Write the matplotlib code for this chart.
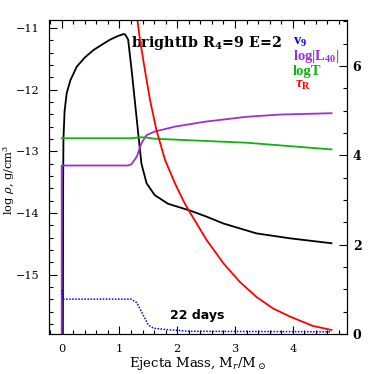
import numpy as np
import matplotlib
matplotlib.use('Agg')
import matplotlib.pyplot as plt
from matplotlib.ticker import MultipleLocator

plt.rcParams['font.family'] = 'DejaVu Serif'
plt.rcParams['mathtext.fontset'] = 'dejavuserif'
# custom math fonts, used only for the coloured labels on the right
plt.rcParams['mathtext.rm'] = 'Liberation Serif:bold'
plt.rcParams['mathtext.bf'] = 'Liberation Serif:bold'
plt.rcParams['mathtext.it'] = 'Liberation Serif:italic:bold'

# density log rho (left axis)
rho_x = [0.02, 0.025, 0.03, 0.05, 0.086, 0.15, 0.26, 0.40, 0.55, 0.70, 0.84, 0.98, 1.07, 1.10,
         1.15, 1.21, 1.27, 1.33, 1.38, 1.47, 1.61, 1.84, 2.22, 2.51, 2.80, 3.37, 3.95, 4.67]
rho_y = [-16.0, -13.5, -12.8, -12.35, -12.06, -11.85, -11.63, -11.48, -11.36, -11.27, -11.19, -11.13,
         -11.10, -11.11, -11.19, -11.68, -12.22, -12.76, -13.20, -13.52, -13.71, -13.85, -13.96,
         -14.06, -14.17, -14.33, -14.41, -14.49]

# right axis quantities
lum_x = [0.0, 0.0, 1.15, 1.21, 1.30, 1.38, 1.47, 1.61, 1.96, 2.48, 3.20, 3.78, 4.67]
lum_y = [0.0, 3.77, 3.77, 3.80, 3.97, 4.27, 4.45, 4.53, 4.64, 4.75, 4.86, 4.91, 4.94]

temp_x = [0.0, 1.20, 1.35, 1.45, 1.60, 2.48, 3.20, 4.67]
temp_y = [4.38, 4.38, 4.40, 4.40, 4.37, 4.32, 4.28, 4.13]

tau_x = [1.28, 1.31, 1.355, 1.44, 1.53, 1.64, 1.79, 1.96, 2.13, 2.22, 2.51, 2.80, 3.08, 3.37,
         3.66, 3.95, 4.35, 4.67]
tau_y = [7.5, 7.03, 6.58, 5.91, 5.23, 4.56, 3.89, 3.37, 2.92, 2.72, 2.10, 1.58, 1.17, 0.83,
         0.57, 0.39, 0.18, 0.09]

vel_x = [0.0, 0.01, 0.02, 1.20, 1.30, 1.40, 1.50, 1.59, 1.80, 2.22, 4.67]
vel_y = [0.98, 0.90, 0.78, 0.78, 0.70, 0.45, 0.20, 0.13, 0.10, 0.06, 0.05]

left_ticks = [-15, -14, -13, -12, -11]
left_labels = ['\u221215', '\u221214', '\u221213', '\u221212', '\u221211']

fig = plt.figure(figsize=(3.74, 3.74), dpi=100)
ax = fig.add_axes([0.131, 0.107, 0.797, 0.840])
ax2 = ax.twinx()

ax.plot(rho_x, rho_y, color='black', lw=1.3)
ax2.plot(lum_x, lum_y, color='#9b30d9', lw=1.3)
ax2.plot(temp_x, temp_y, color='#12b012', lw=1.3)
ax2.plot(tau_x, tau_y, color='red', lw=1.3)
ax2.plot(vel_x, vel_y, color='blue', lw=1.1, ls=(0, (1, 1)))

ax.set_xlim(-0.22, 4.94)
ax.set_ylim(-15.96, -10.87)
ax2.set_ylim(0, 7.03)

ax.xaxis.set_major_locator(MultipleLocator(1))
ax.xaxis.set_minor_locator(MultipleLocator(0.2))
ax.yaxis.set_minor_locator(MultipleLocator(0.2))
ax2.yaxis.set_major_locator(MultipleLocator(2))
ax2.yaxis.set_minor_locator(MultipleLocator(0.5))
ax.set_yticks(left_ticks)
ax.set_yticklabels(left_labels)

ax.tick_params(which='both', direction='in', top=True, right=False, labelsize=8.2, pad=7)
ax.tick_params(axis='y', labelsize=8, pad=6.5)
ax.tick_params(which='major', length=6, width=0.8)
ax.tick_params(which='minor', length=3, width=0.8)
ax2.tick_params(which='both', direction='in', labelsize=9, pad=4)
ax2.tick_params(which='major', length=6, width=0.8)
ax2.tick_params(which='minor', length=3, width=0.8)
for lab in ax2.get_yticklabels():
    lab.set_fontweight('bold')

ax.set_xlabel(r'Ejecta Mass, M$_r$/M$_\odot$', fontsize=9.5, labelpad=1)
# y label placed by hand so it stays inside the figure
fig.text(1 / 374, 0.52, r'log $\rho$, g/cm$^3$', fontsize=8.2, rotation=90,
         ha='left', va='center')

ax.text(1.20, -11.24, r'brightIb R$_\mathbf{4}$=9 E=2', fontsize=10.3, fontweight='bold',
        va='center')
ax.text(1.87, -15.66, '22 days', fontsize=9, fontweight='bold', family='DejaVu Sans',
        va='center')

lfont = dict(family='Liberation Serif', fontsize=10.5, fontweight='bold', va='center',
             math_fontfamily='custom')
ax2.text(4.00, 6.52, r'v$_\mathbf{9}$', color='blue', **lfont)
ax2.text(4.00, 6.21, r'log|L$_\mathbf{40}$|', color='#9b30d9', **lfont)
ax2.text(4.00, 5.88, 'logT', color='#12b012', **lfont)
ax2.text(4.04, 5.56, r'$\tau_\mathbf{R}$', color='red', **lfont)

fig.savefig('out.png', dpi=100)
